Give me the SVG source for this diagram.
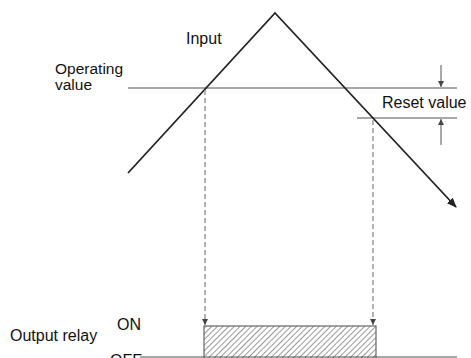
<svg xmlns="http://www.w3.org/2000/svg" width="471" height="358" viewBox="0 0 471 358">
<style>
text{font-family:"Liberation Sans",Arial,sans-serif;font-size:16px;fill:#111}
.ref{stroke:#8a8a8a;stroke-width:1.5;fill:none}
.dash{stroke:#8a8a8a;stroke-width:1.3;stroke-dasharray:5,3;fill:none}
.inp{stroke:#222;stroke-width:1.8;fill:none}
.tick{stroke:#555;stroke-width:1;fill:none}
</style>
<defs>
<marker id="ah" markerWidth="10" markerHeight="10" refX="9" refY="5" orient="auto" markerUnits="userSpaceOnUse"><path d="M0,1 L10,5 L0,9 Z" fill="#222"/></marker>
<marker id="sm" markerWidth="6" markerHeight="8" refX="6" refY="3" orient="auto" markerUnits="userSpaceOnUse"><path d="M0,0 L6,3 L0,6 Z" fill="#444"/></marker>
<pattern id="hatch" width="4" height="4" patternUnits="userSpaceOnUse" patternTransform="rotate(45)"><line x1="0" y1="0" x2="0" y2="4" stroke="#444" stroke-width="1.1"/></pattern>
</defs>
<g id="levels">
<line class="ref" x1="128" y1="88" x2="457" y2="88"/>
<line class="ref" x1="357" y1="118" x2="457" y2="118"/>
<line class="ref" x1="140" y1="357" x2="457" y2="357"/>
</g>
<g id="input">
<polyline class="inp" points="128,173 275,13 456,207" marker-end="url(#ah)"/>
<text x="186" y="44">Input</text>
</g>
<g id="operating-label"><text x="55" y="74" style="font-size:15.5px">Operating</text><text x="55" y="90" style="font-size:15.5px">value</text></g>
<g id="reset-label"><text x="382" y="108">Reset value</text>
<line class="tick" x1="441" y1="65" x2="441" y2="87" marker-end="url(#sm)"/>
<line class="tick" x1="441" y1="145" x2="441" y2="119" marker-end="url(#sm)"/>
</g>
<g id="connectors">
<line class="dash" x1="205" y1="90" x2="205" y2="325" marker-end="url(#sm)"/>
<line class="dash" x1="373" y1="120" x2="373" y2="325" marker-end="url(#sm)"/>
</g>
<g id="output-relay">
<rect x="204" y="326" width="172" height="34" fill="url(#hatch)" stroke="#666" stroke-width="1.2"/>
<text x="10" y="341">Output relay</text>
<text x="117" y="330">ON</text>
<text x="110" y="366">OFF</text>
</g>
</svg>
